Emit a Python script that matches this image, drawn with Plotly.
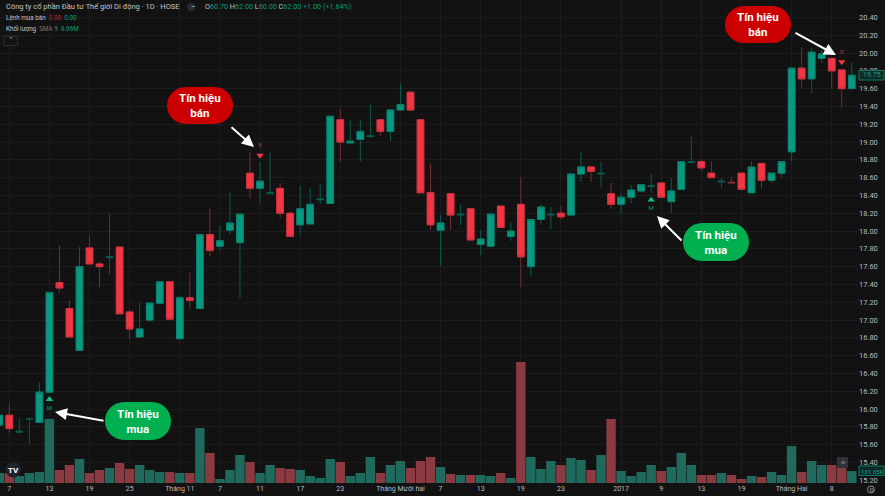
import plotly.graph_objects as go

# Daily OHLC, first candle is cut by the left edge of the chart
opens = [15.82,15.93,15.74,15.89,15.85,16.19,17.42,17.13,16.66,17.81,17.63,17.70,17.82,17.09,16.81,17.00,17.19,17.43,16.79,17.25,17.13,17.96,17.83,18.01,17.87,18.65,18.48,18.42,18.48,18.20,18.07,18.08,18.35,18.31,19.25,18.99,19.03,19.06,19.25,19.12,19.36,19.56,19.25,18.43,18.01,18.42,18.18,18.25,17.85,17.83,18.28,17.94,18.30,17.60,18.13,18.18,18.20,18.18,18.64,18.72,18.64,18.42,18.30,18.38,18.45,18.50,18.54,18.33,18.47,18.77,18.78,18.65,18.55,18.55,18.65,18.43,18.76,18.57,18.65,18.89,19.83,19.71,19.94,19.94,19.81,19.60]
highs = [15.93,16.06,15.89,15.89,16.30,17.31,17.84,17.22,17.82,17.94,17.66,18.19,17.82,17.12,17.19,17.19,17.43,17.43,17.27,17.53,17.96,18.25,18.06,18.43,18.19,18.89,18.78,18.88,18.54,18.22,18.51,18.48,18.53,19.29,19.37,19.25,19.25,19.42,19.25,19.36,19.66,19.56,19.25,18.76,18.18,18.42,18.30,18.25,18.01,18.19,18.28,18.10,18.60,18.13,18.30,18.27,18.28,18.64,18.89,18.72,18.78,18.54,18.43,18.52,18.52,18.64,18.54,18.60,18.78,19.06,18.81,18.78,18.60,18.61,18.65,18.78,18.76,18.65,18.78,19.83,20.06,20.06,20.03,19.94,19.81,19.89]
lows = [15.82,15.73,15.74,15.61,15.85,16.19,17.31,16.80,16.66,17.63,17.37,17.51,17.07,16.79,16.80,16.98,17.19,17.01,16.79,17.13,17.13,17.72,17.79,17.96,17.25,18.37,18.31,18.43,18.15,17.94,17.96,18.08,18.30,18.31,18.78,18.99,18.78,19.05,19.07,19.01,19.36,19.36,18.43,18.01,17.61,18.01,18.07,17.90,17.73,17.83,18.04,17.89,17.37,17.49,18.07,18.02,18.13,18.18,18.55,18.55,18.48,18.25,18.19,18.31,18.43,18.43,18.38,18.20,18.47,18.76,18.67,18.60,18.48,18.54,18.47,18.43,18.48,18.54,18.60,18.78,19.61,19.55,19.89,19.60,19.39,19.60]
closes = [15.93,15.78,15.75,15.89,16.19,17.31,17.36,16.81,17.60,17.63,17.60,17.71,17.07,16.90,16.90,17.19,17.43,17.01,17.25,17.22,17.96,17.78,17.89,18.09,18.19,18.48,18.56,18.43,18.20,17.94,18.25,18.30,18.36,19.29,19.00,19.01,19.12,19.07,19.12,19.36,19.42,19.36,18.43,18.07,18.09,18.18,18.19,17.90,17.91,18.19,18.04,18.00,17.71,18.13,18.27,18.19,18.16,18.64,18.72,18.67,18.65,18.30,18.38,18.46,18.52,18.51,18.38,18.45,18.78,18.78,18.71,18.60,18.56,18.54,18.47,18.72,18.57,18.65,18.78,19.83,19.71,20.01,19.99,19.80,19.60,19.75]
volumes = [110,110,77,110,121,704,143,198,264,110,143,165,220,154,198,143,121,121,110,110,605,330,44,143,308,231,110,198,165,154,143,77,55,264,231,77,110,286,110,198,242,165,242,286,176,99,88,88,88,77,110,55,1331,286,154,242,198,275,253,143,308,704,132,77,121,198,132,176,330,198,88,88,110,88,44,77,66,121,88,407,121,242,198,198,165,131]

tick_positions = [0,4,8,12,17,21,25,29,33,39,43,47,51,55,61,65,69,73,78,82]
tick_labels = ["7","13","19","25","Tháng 11","7","11","17","23","Tháng Mười hai","7","13","19","23","2017","9","13","19","Tháng Hai","8"]
price_ticks = [15.2,15.4,15.6,15.8,16.0,16.2,16.4,16.6,16.8,17.0,17.2,17.4,17.6,17.8,18.0,18.2,18.4,18.6,18.8,19.0,19.2,19.4,19.6,19.8,20.0,20.2,20.4,20.6]

buy_x, buy_y = [4, 64], [16.11, 18.35]
buy_letter_y = [16.01, 18.25]
sell_x, sell_y = [25, 83], [18.85, 19.90]
sell_letter_y = [18.96, 20.01]

BG = "#121212"
UP, DOWN = "#089981", "#F23645"
UP_LINE, DOWN_LINE = "#0B5A4D", "#7A2A33"
UP_EDGE, DOWN_EDGE = "#0A8270", "#D4333F"
UP_VOL, DOWN_VOL = "#1F6A5C", "#8C3A42"
GRID = "#1C1C1C"
TXT = "#B9BBC2"
W, H, PW, PH = 885, 496, 858, 483
FONT = "Roboto"

x = list(range(-1, len(opens) - 1))
vol_colors = [UP_VOL if c >= o else DOWN_VOL for o, c in zip(opens, closes)]
# second pass draws only the real candle bodies, so the wicks and doji bars stay dim
is_body = [abs(o - c) >= 0.015 for o, c in zip(opens, closes)]
body_x = [v for v, b in zip(x, is_body) if b]
body_o = [v for v, b in zip(opens, is_body) if b]
body_c = [v for v, b in zip(closes, is_body) if b]

fig = go.Figure()
fig.add_bar(x=x, y=volumes, yaxis="y2", marker=dict(color=vol_colors, line_width=0), showlegend=False, width=0.94)
fig.add_candlestick(x=x, open=opens, high=highs, low=lows, close=closes, whiskerwidth=0,
                    increasing=dict(fillcolor=UP, line=dict(color=UP_LINE, width=1)),
                    decreasing=dict(fillcolor=DOWN, line=dict(color=DOWN_LINE, width=1)),
                    showlegend=False)
fig.add_candlestick(x=body_x, open=body_o, close=body_c,
                    high=[max(a, b) for a, b in zip(body_o, body_c)], low=[min(a, b) for a, b in zip(body_o, body_c)],
                    whiskerwidth=0,
                    increasing=dict(fillcolor=UP, line=dict(color=UP_EDGE, width=1)),
                    decreasing=dict(fillcolor=DOWN, line=dict(color=DOWN_EDGE, width=1)),
                    showlegend=False)
fig.add_scatter(x=buy_x, y=buy_y, mode="markers", marker=dict(symbol="triangle-up", size=6.5, color="#0BC27F"), showlegend=False)
fig.add_scatter(x=sell_x, y=sell_y, mode="markers", marker=dict(symbol="triangle-down", size=6.5, color="#F23645"), showlegend=False)
fig.add_scatter(x=buy_x, y=buy_letter_y, mode="text", text=["M", "M"], textfont=dict(size=6, color="#0A9B70", family=FONT), showlegend=False)
fig.add_scatter(x=sell_x, y=sell_letter_y, mode="text", text=["B", "B"], textfont=dict(size=6, color="#B02A3A", family=FONT), showlegend=False)


def px(v):
    return v / PW


def py(v):
    return 1 - v / PH


def pill(x0, y0, x1, y1, color):
    r = (y1 - y0) / 2
    k = r * 0.5523
    pts = [
        ("M", x0 + r, y0), ("L", x1 - r, y0),
        ("C", x1 - r + k, y0), ("", x1, y0 + r - k), ("", x1, y0 + r),
        ("C", x1, y0 + r + k), ("", x1 - r + k, y1), ("", x1 - r, y1),
        ("L", x0 + r, y1),
        ("C", x0 + r - k, y1), ("", x0, y0 + r + k), ("", x0, y0 + r),
        ("C", x0, y0 + r - k), ("", x0 + r - k, y0), ("", x0 + r, y0),
    ]
    path = " ".join(f"{c}{px(a):.5f},{py(b):.5f}" for c, a, b in pts) + " Z"
    return dict(type="path", xref="paper", yref="paper", path=path, fillcolor=color, line_width=0, layer="above")


callouts = [
    (167, 87, 233, 124, "#CC0000", "Tín hiệu<br>bán"),
    (105, 402, 171, 440, "#00B050", "Tín hiệu<br>mua"),
    (725, 6, 791, 43, "#CC0000", "Tín hiệu<br>bán"),
    (683, 223, 749, 261, "#00B050", "Tín hiệu<br>mua"),
]
arrows = [(230, 126, 254, 147), (105, 421, 55, 412), (794, 32, 836, 55), (683, 242, 657, 216)]

shapes = [pill(a, b, c, d, col) for a, b, c, d, col, _ in callouts]
# price badges and small chart buttons
shapes += [
    dict(type="rect", xref="paper", yref="paper", x0=px(859), x1=px(884), y0=py(70.5), y1=py(80), fillcolor="#0E2A26", line=dict(color="#0B7A68", width=1), layer="above"),
    dict(type="rect", xref="paper", yref="paper", x0=px(859), x1=px(884), y0=py(466), y1=py(475.5), fillcolor="#0E2A26", line=dict(color="#0B7A68", width=1), layer="above"),
    dict(type="rect", xref="paper", yref="paper", x0=px(837), x1=px(848), y0=py(457), y1=py(468), fillcolor="#2F3340", line_width=0, layer="above"),
    dict(type="circle", xref="paper", yref="paper", x0=px(5.5), x1=px(21), y0=py(462), y1=py(477.5), fillcolor="#20222C", line_width=0, layer="above"),
    dict(type="rect", xref="paper", yref="paper", x0=px(4), x1=px(17.5), y0=py(36.5), y1=py(45.5), fillcolor=BG, line=dict(color="#2E2E2E", width=1)),
    dict(type="circle", xref="paper", yref="paper", x0=px(187), x1=px(195), y0=py(3), y1=py(11), fillcolor="#2A2C33", line_width=0),
    dict(type="circle", xref="paper", yref="paper", x0=px(867.5), x1=px(874.5), y0=py(486), y1=py(493), line=dict(color="#8A8A8A", width=1)),
]

ann = []
for a, b, c, d, _, t in callouts:
    ann.append(dict(xref="paper", yref="paper", x=px((a + c) / 2), y=py((b + d) / 2), xanchor="center", yanchor="middle",
                    text=f"<b>{t}</b>", showarrow=False,
                    font=dict(size=11.5, color="white", family=FONT), align="center"))
for x0, y0, x1, y1 in arrows:
    ann.append(dict(xref="paper", yref="paper", x=px(x1), y=py(y1), ax=x0 - x1, ay=y0 - y1, axref="pixel", ayref="pixel", text="",
                    showarrow=True, arrowcolor="white", arrowwidth=2, arrowhead=2, arrowsize=1.2))


def label(x0, y0, text, size=7.5, color=TXT, anchor="left"):
    return dict(xref="paper", yref="paper", x=px(x0), y=py(y0), text=text, showarrow=False, xanchor=anchor, yanchor="middle",
                font=dict(size=size, color=color, family=FONT))


G = "#0A9B78"
R = "#B02A3A"
SP = "\u00a0\u00a0"
ann += [
    label(4, 7, "Công ty cổ phần Đầu tư Thế giới Di động · 1D · HOSE", 7.5, "#C2C4CA"),
    label(189, 7, "–", 7, "#D0D0D0"),
    label(203, 7, f'O<span style="color:{G}">60.70</span> H<span style="color:{G}">62.00</span> L<span style="color:{G}">60.00</span> C<span style="color:{G}">62.00</span> <span style="color:{G}">+1.00 (+1.64%)</span>', 7.2, "#C2C4CA"),
    label(4, 18.5, f'Lệnh mua bán{SP}<span style="color:{R}">0.00</span>{SP}<span style="color:{G}">0.00</span>', 6.3, "#C2C4CA"),
    label(4, 29.5, f'Khối lượng{SP}<span style="color:#777">SMA 9</span>{SP}<span style="color:{G}">8.86M</span>', 6.3, "#C2C4CA"),
    label(10.7, 40, "⌃", 7, "#AAAAAA", "center"),
    label(13.2, 470.5, "<b>TV</b>", 8, "#FFFFFF", "center"),
    label(871.5, 75.5, "19.75", 7, "#0FA98E", "center"),
    label(871.5, 471, "131.35K", 6, "#0FA98E", "center"),
    label(842.5, 462.5, "‹›", 7, "#C8C8C8", "center"),
    label(871, 489.5, "⚙", 6, "#8A8A8A", "center"),
]

fig.update_layout(
    width=W, height=H, autosize=False,
    margin=dict(l=0, r=W - PW, t=0, b=H - PH),
    paper_bgcolor=BG, plot_bgcolor=BG,
    boxmode="overlay", boxgap=0.05, bargap=0.05,
    font=dict(family=FONT, color=TXT),
    shapes=shapes, annotations=ann,
    xaxis=dict(range=[-0.927, 84.62], tickmode="array", tickvals=tick_positions, ticktext=tick_labels,
               rangeslider_visible=False, gridcolor=GRID, gridwidth=1, zeroline=False, showline=False, ticks="",
               tickfont=dict(size=7, color=TXT, family=FONT), tickangle=0),
    yaxis=dict(range=[15.169, 20.596], side="right", tickmode="array", tickvals=price_ticks,
               ticktext=[f"{p:.2f}" for p in price_ticks], gridcolor=GRID, gridwidth=1, zeroline=False, showline=False,
               ticks="", tickfont=dict(size=7.5, color=TXT, family=FONT)),
    yaxis2=dict(overlaying="y", range=[0, 5313], visible=False, showgrid=False, fixedrange=True),
    hovermode=False,
)

fig.write_html("out.html", config=dict(displayModeBar=False), post_script="document.body.style.margin='0';document.body.style.background='#121212';document.documentElement.style.overflow='hidden';")
